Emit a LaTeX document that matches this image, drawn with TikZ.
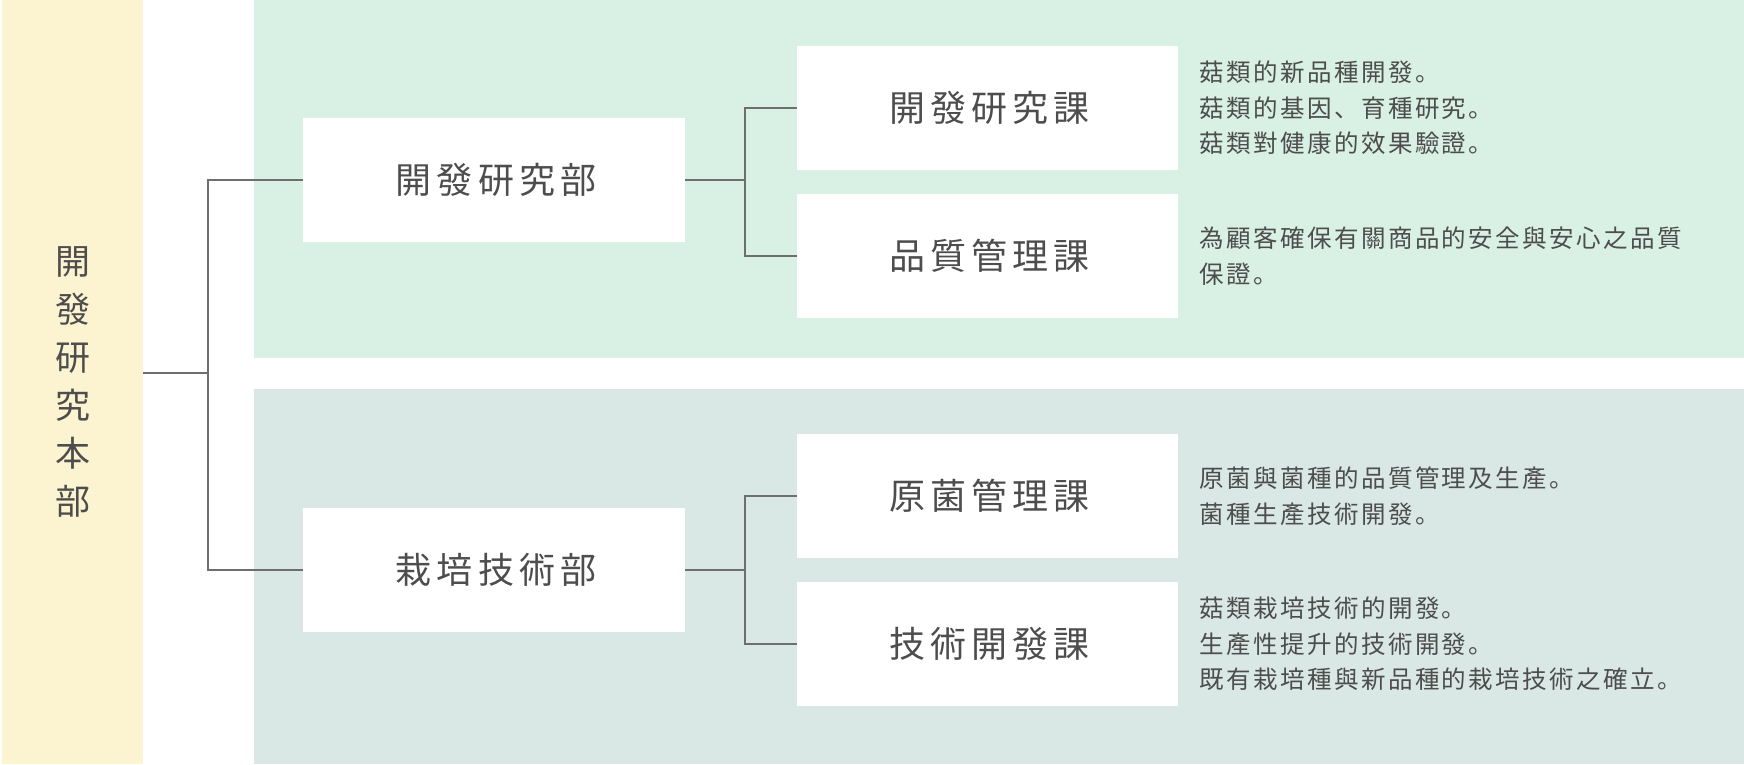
\documentclass[tikz,border=0pt]{standalone}
\usepackage{fontspec}
\usepackage{xcolor}
\usepackage{tikz}
\usetikzlibrary{positioning}

\setmainfont{Noto Sans CJK JP}
\newfontfamily\labelfont[LetterSpace=14]{Noto Sans CJK JP}
\newfontfamily\notefont[LetterSpace=10]{Noto Sans CJK JP}

\definecolor{ink}{HTML}{4D4D4D}
\definecolor{wire}{HTML}{6E6E6E}
\definecolor{headfill}{HTML}{FCF4D0}
\definecolor{devfill}{HTML}{D9F0E4}
\definecolor{cultfill}{HTML}{D9E8E4}

\begin{document}
\begin{tikzpicture}[
    x=1pt, y=-1pt,
    every node/.style={text=ink, inner sep=0pt},
    head/.style={fill=headfill, minimum width=141.5pt, minimum height=764pt, align=center, font=\fontsize{35}{48}\selectfont},
    unit/.style={fill=white, minimum width=382pt, minimum height=124pt, font=\labelfont\fontsize{36}{40}\selectfont},
    note/.style={align=left, font=\notefont\fontsize{24.5}{35.5}\selectfont},
    link/.style={draw=wire, line width=2pt}
]
\useasboundingbox (0,0) rectangle (1744,764);

% background panels
\fill[devfill] (254,0) rectangle (1744,358);
\fill[cultfill] (254,389) rectangle (1744,764);

\node[head] (head) at (72.5,382) {開\\發\\研\\究\\本\\部};

% departments
\node[unit] (rd) at (494,180) {\kern4pt 開發研究部};
\node[unit] (cult) at (494,570) {\kern4pt 栽培技術部};

% sections
\node[unit, minimum width=381pt] (rdsec) at (987.5,108) {\kern4pt 開發研究課};
\node[unit, minimum width=381pt] (qa) at (987.5,256) {\kern4pt 品質管理課};
\node[unit, minimum width=381pt] (strain) at (987.5,496) {\kern4pt 原菌管理課};
\node[unit, minimum width=381pt] (tech) at (987.5,644) {\kern4pt 技術開發課};

\node[note, right=21pt of rdsec] (rdnote) {菇類的新品種開發。\\菇類的基因、育種研究。\\菇類對健康的效果驗證。};
\node[note, right=21pt of qa] (qanote) {為顧客確保有關商品的安全與安心之品質\\保證。};
\node[note, right=21pt of strain] (strainnote) {原菌與菌種的品質管理及生產。\\菌種生產技術開發。};
\node[note, right=21pt of tech] (technote) {菇類栽培技術的開發。\\生產性提升的技術開發。\\既有栽培種與新品種的栽培技術之確立。};

% connectors
\coordinate (trunk) at (208,373);
\draw[link] (head.east |- trunk) -- (trunk);
\draw[link] (rd.west) -| (trunk) |- (cult.west);
\draw[link] (rd.east) -- ++(60,0) coordinate (rdfork);
\draw[link] (rdsec.west) -| (rdfork) |- (qa.west);
\draw[link] (cult.east) -- ++(60,0) coordinate (cultfork);
\draw[link] (strain.west) -| (cultfork) |- (tech.west);
\end{tikzpicture}
\end{document}
